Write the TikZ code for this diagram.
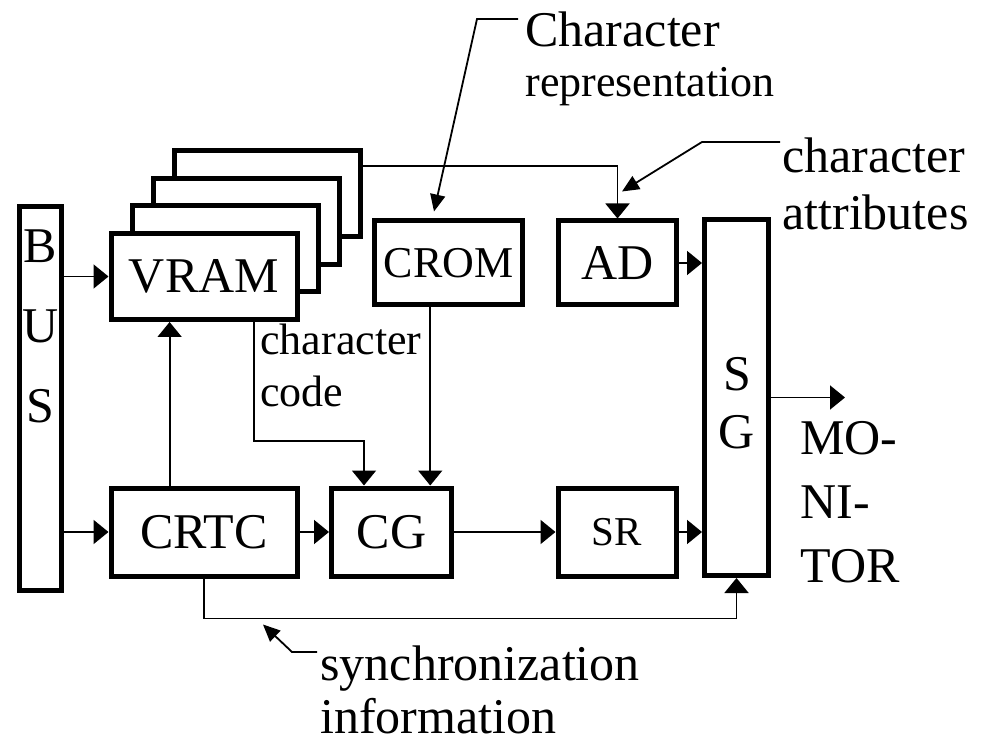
\documentclass[tikz,border=0pt]{standalone}
\usepackage{fontspec}
\setmainfont{Liberation Serif}
\usetikzlibrary{calc,arrows.meta}
\newcommand\boxfont{\fontsize{25}{30}\selectfont}
\newcommand\notefont{\fontsize{22}{26}\selectfont}

\begin{document}
\begin{tikzpicture}[x=0.5pt,y=-0.5pt,
	blk/.style={draw,line width=2.5pt,fill=white,inner sep=0pt,font=\boxfont},
	arr/.style={line width=0.9pt,-{Triangle[length=7.5pt,width=12pt]}},
	lead/.style={line width=0.9pt,-{Triangle[length=8.5pt,width=7.5pt]}},
	txt/.style={inner sep=0pt,anchor=base west,font=\boxfont}]
		%%%%% START %%%%%
		\useasboundingbox (0,0) rectangle (985,748);
		
		% bus bar on the left
		\node[blk,minimum width=21pt,minimum height=192pt] (bus) at (40.5,398.5) {};
		\node[txt,anchor=center] (busB) at (40.5,246) {B};
		\node[txt,anchor=center] (busU) at (40.5,326) {U};
		\node[txt,anchor=center] (busS) at (40.5,406) {S};
		
		% stacked video RAM pages, back to front
		\foreach \i in {3,2,1}
			\node[blk,minimum width=93pt,minimum height=43pt] (vram\i) at ({204+21*\i},{276.5-27.7*\i}) {};
		\node[blk,minimum width=93pt,minimum height=43pt] (vram) at (204,276.5) {VRAM};
		
		\node[blk,font=\notefont,minimum width=74pt,minimum height=42pt] (crom) at (448.5,263) {CROM};
		\node[blk,minimum width=59pt,minimum height=42pt] (ad) at (617.5,263) {AD};
		\node[blk,minimum width=32pt,minimum height=178pt] (sg) at (736.5,397.5) {};
		\node[txt,anchor=center] (sgS) at (737,374) {S};
		\node[txt,anchor=center] (sgG) at (737,432) {G};
		
		\node[blk,minimum width=93pt,minimum height=44pt] (crtc) at (204,532) {CRTC};
		\node[blk,minimum width=60pt,minimum height=44pt] (cg) at (391.5,532) {CG};
		\node[blk,font=\fontsize{20.5}{24}\selectfont,minimum width=59pt,minimum height=44pt] (sr) at (617,532) {SR};
		
		% labels
		\node[txt] (crep1) at (525,47) {Character};
		\node[txt,font=\notefont] (crep2) at (525,97) {representation};
		\node[txt] (attr1) at (782,173) {character};
		\node[txt] (attr2) at (782,230) {attributes};
		\node[txt,font=\notefont] (code1) at (260,355) {character};
		\node[txt,font=\notefont] (code2) at (260,407) {code};
		\node[txt] (sync1) at (320,680) {synchronization};
		\node[txt] (sync2) at (320,733) {information};
		\node[txt] (mon1) at (800,455) {MO-};
		\node[txt] (mon2) at (800,518) {NI-};
		\node[txt] (mon3) at (800,582) {TOR};
		
		% data paths
		\draw[arr] (bus.east |- vram.west) -- (vram.west);
		\draw[arr] (bus.east |- crtc.west) -- (crtc.west);
		\draw[arr] ($(crtc.north west)!0.32!(crtc.north east)$) coordinate (up) -- (up |- vram.south);
		\draw[arr] ($(vram.south west)!0.763!(vram.south east)$) -- ++(0,119) -| ($(cg.north west)!0.28!(cg.north east)$);
		\coordinate (cgin) at ($(cg.north west)!0.81!(cg.north east)$);
		\draw[arr] (crom.south -| cgin) -- (cgin);
		\draw[arr] ($(vram3.north east)!0.2!(vram3.south east)$) -| (ad.north);
		\draw[arr] (ad.east) -- (ad.east -| sg.west);
		\draw[arr] (crtc.east) -- (cg.west);
		\draw[arr] (cg.east) -- (sr.west);
		\draw[arr] (sr.east) -- (sr.east -| sg.west);
		\draw[arr] (crtc.south) -- ++(0,40) -| (sg.south);
		\coordinate (monitor) at (845,397.5);
		\draw[arr] (sg.east) -- (monitor);
		
		% leaders from the labels
		\coordinate (crepknee) at (477,19);
		\draw[lead] ($(crep1.west |- crepknee)+(-7,0)$) -- (crepknee) -- ($(crom.north)+(-14.5,-7)$);
		\coordinate (attrknee) at (702,142);
		\draw[lead] ($(attr1.west |- attrknee)+(-2,0)$) -- (attrknee) -- ($(ad.north)+(4.5,-27)$);
		\coordinate (syncknee) at (292,652);
		\draw[lead] ($(sync1.west |- syncknee)+(-3,0)$) -- (syncknee) -- ($(crtc.south)+(59,46)$);
		%%%%% END %%%%%
\end{tikzpicture}
\end{document}
